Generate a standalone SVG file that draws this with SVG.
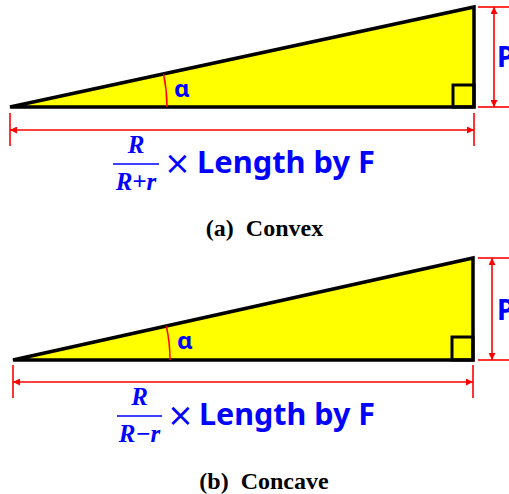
<svg xmlns="http://www.w3.org/2000/svg" width="509" height="494" viewBox="0 0 509 494">
<style>
.tri{fill:#FFFF00;stroke:#000;stroke-width:3.5}
.sq{fill:none;stroke:#000;stroke-width:3}
.dim{stroke:#FF0000;stroke-width:1.6;fill:none}
.ext{stroke:#FF0000;stroke-width:1.6}
.arc{stroke:#FF0000;stroke-width:1.5;fill:none}
.lbl{fill:#0000FF;font-family:"Noto Sans","Open Sans",sans-serif;font-weight:bold}
.times{fill:#0000FF;font-family:"DejaVu Sans",sans-serif;font-weight:normal;font-size:32px;text-anchor:middle}
.frac{fill:#0000FF;font-family:"Liberation Serif",serif;font-weight:bold;font-style:italic;font-size:25px;text-anchor:middle}
.fl{stroke:#0000FF;stroke-width:1.6}
.cap{fill:#000;font-family:"Liberation Serif",serif;font-weight:bold;font-size:24px;text-anchor:middle}
</style>
<defs>
<marker id="ah" viewBox="0 0 10 10" refX="10" refY="5" markerWidth="8" markerHeight="7" markerUnits="userSpaceOnUse" orient="auto-start-reverse">
<path d="M0,0 L10,5 L0,10 z" fill="#FF0000"/>
</marker>
</defs>

<g id="triangle-a">
<polygon class="tri" points="10,107 474,7 474,107"/>
<rect class="sq" x="453" y="85" width="21" height="22"/>
<path class="arc" d="M163.5,73.8 A157,157 0 0 1 167,107"/>
<text class="lbl" x="174" y="97" font-size="24">α</text>
</g>
<g id="dim-a">
<line class="ext" x1="10" y1="113" x2="10" y2="146"/>
<line class="ext" x1="474" y1="113" x2="474" y2="146"/>
<line class="dim" x1="10" y1="130" x2="474" y2="130" marker-start="url(#ah)" marker-end="url(#ah)"/>
<line class="ext" x1="478" y1="7" x2="509" y2="7"/>
<line class="ext" x1="478" y1="107" x2="509" y2="107"/>
<line class="dim" x1="494" y1="7" x2="494" y2="107" marker-start="url(#ah)" marker-end="url(#ah)"/>
<text class="lbl" x="497" y="67" font-size="28">P</text>
</g>
<g id="formula-a">
<text class="frac" x="136" y="153">R</text>
<line class="fl" x1="113" y1="164" x2="159" y2="164"/>
<text class="frac" x="136" y="190">R+r</text>
<text class="times" x="177.5" y="174">×</text>
<text class="lbl" x="197" y="173" font-size="30" textLength="178" lengthAdjust="spacingAndGlyphs">Length by F</text>
</g>
<text class="cap" x="264.5" y="236" xml:space="preserve">(a)  Convex</text>

<g id="triangle-b">
<polygon class="tri" points="13,360 473,258 473,360"/>
<rect class="sq" x="452" y="337" width="21" height="23"/>
<path class="arc" d="M166.3,326 A157,157 0 0 1 170,360"/>
<text class="lbl" x="177" y="349" font-size="24">α</text>
</g>
<g id="dim-b">
<line class="ext" x1="13" y1="365" x2="13" y2="398"/>
<line class="ext" x1="473" y1="365" x2="473" y2="398"/>
<line class="dim" x1="13" y1="382" x2="473" y2="382" marker-start="url(#ah)" marker-end="url(#ah)"/>
<line class="ext" x1="478" y1="258" x2="509" y2="258"/>
<line class="ext" x1="478" y1="360" x2="509" y2="360"/>
<line class="dim" x1="492" y1="258" x2="492" y2="360" marker-start="url(#ah)" marker-end="url(#ah)"/>
<text class="lbl" x="497" y="320" font-size="28">P</text>
</g>
<g id="formula-b">
<text class="frac" x="139.5" y="405">R</text>
<line class="fl" x1="117" y1="416" x2="162" y2="416"/>
<text class="frac" x="139.5" y="442">R−r</text>
<text class="times" x="180.5" y="426">×</text>
<text class="lbl" x="199" y="425" font-size="30" textLength="176" lengthAdjust="spacingAndGlyphs">Length by F</text>
</g>
<text class="cap" x="264" y="489" xml:space="preserve">(b)  Concave</text>
</svg>
